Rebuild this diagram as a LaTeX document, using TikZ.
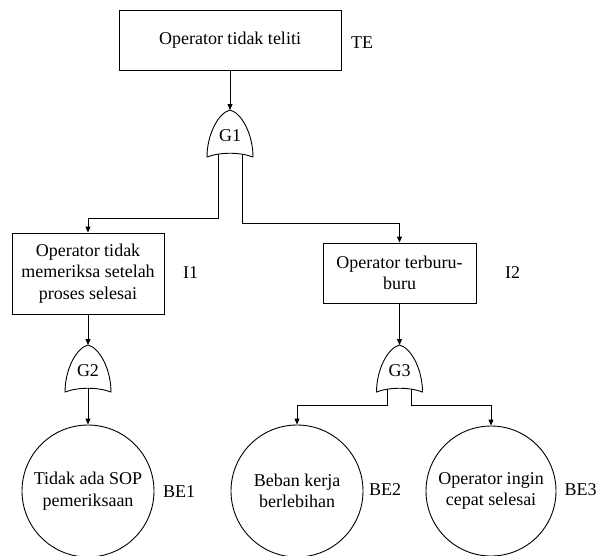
\documentclass[tikz,border=0pt]{standalone}
\usepackage{fontspec}
\setmainfont{Liberation Serif}
\usetikzlibrary{arrows.meta}
\newcommand{\orgate}[4]{%
  \draw[gateshape] (#2,#3) .. controls (#2-12,#3+3) and (#2-23,#3+25) .. (#2-23,#3+47)
     .. controls (#2-10,#3+42) and (#2+10,#3+42) .. (#2+23,#3+47)
     .. controls (#2+23,#3+25) and (#2+12,#3+3) .. cycle;
  \coordinate (#1top) at (#2,#3);
  \coordinate (#1L) at (#2-12,#3+44);
  \coordinate (#1R) at (#2+12,#3+44);
  \coordinate (#1B) at (#2,#3+43);
  \node[lbl] (#1) at (#2,#3+26) {#4};
}
\begin{document}
\begin{tikzpicture}[x=1pt,y=-1pt,
  every node/.style={font=\fontsize{18}{21.5}\selectfont},
  gateshape/.style={draw, line width=0.9pt},
  lbl/.style={inner sep=0pt, anchor=center},
  tag/.style={inner sep=0pt, anchor=west},
  evbox/.style={draw, line width=0.9pt, align=center, inner sep=0pt},
  basic/.style={draw, circle, line width=0.9pt, minimum size=132pt, align=center, inner sep=0pt},
  arr/.style={line width=0.9pt, -{Triangle[length=6pt,width=5pt]}},
  ln/.style={line width=0.9pt}]
\useasboundingbox (0,0) rectangle (596,555);

% events
\node[evbox, minimum width=222pt, minimum height=60pt] (te) at (230,40) {Operator tidak teliti};
\node[tag] (tel) at (351,43) {TE};

\node[evbox, minimum width=152pt, minimum height=81pt] (i1) at (88,273.5) {Operator tidak\\memeriksa setelah\\proses selesai};
\node[tag] (i1l) at (183,273) {I1};

\node[evbox, minimum width=153pt, minimum height=60pt] (i2) at (399.5,273) {Operator terburu-\\buru};
\node[tag] (i2l) at (505,273) {I2};

\node[basic] (be1) at (88,491) {Tidak ada SOP\\pemeriksaan};
\node[tag] (be1l) at (163,492) {BE1};
\node[basic] (be2) at (297,491) {Beban kerja\\berlebihan};
\node[tag] (be2l) at (369,490) {BE2};
\node[basic, minimum size=130pt] (be3) at (491,491) {Operator ingin\\cepat selesai};
\node[tag] (be3l) at (564.5,490) {BE3};

% gates
\orgate{g1}{230}{110}{G1}
\orgate{g2}{88}{345}{G2}
\orgate{g3}{399.5}{345}{G3}

% connectors
\draw[arr] (te.south) -- (g1top);
\draw[arr] (g1L) -- ++(0,64) -| (i1.north);
\draw[arr] (g1R) -- ++(0,69) -| (i2.north);
\draw[arr] (i1.south) -- (g2top);
\draw[arr] (i2.south) -- (g3top);
\draw[arr] (g2B) -- (be1.north);
\draw[arr] (g3L) -- ++(0,16) -| (be2.north);
\draw[arr] (g3R) -- ++(0,16) -| (be3.north);
\end{tikzpicture}
\end{document}
